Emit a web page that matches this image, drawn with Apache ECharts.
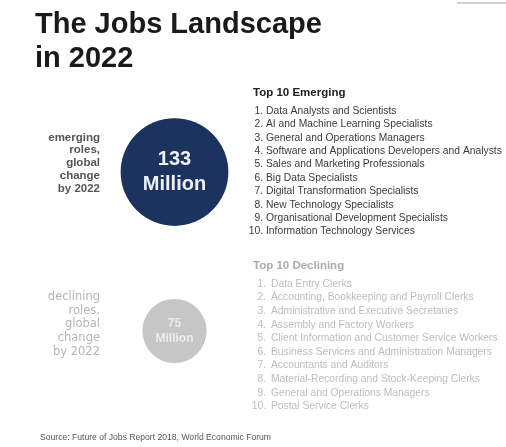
<!DOCTYPE html>
<html>
<head>
<meta charset="utf-8">
<script src="https://cdn.jsdelivr.net/npm/echarts@6/dist/echarts.min.js"></script>
<style>
html,body{margin:0;padding:0;background:#fff;}
#chart{width:506px;height:447px;}
</style>
</head>
<body>
<div id="chart"></div>
<script>
// ---- data ----
const titleLines = ['The Jobs Landscape', 'in 2022'];
const circleYear = ['2022'];
const circleGroups = ['emerging', 'declining'];
const rolesMillions = [133, 75];
const emergingHeader = 'Top 10 Emerging';
const emergingRoles = [
  'Data Analysts and Scientists',
  'AI and Machine Learning Specialists',
  'General and Operations Managers',
  'Software and Applications Developers and Analysts',
  'Sales and Marketing Professionals',
  'Big Data Specialists',
  'Digital Transformation Specialists',
  'New Technology Specialists',
  'Organisational Development Specialists',
  'Information Technology Services'
];
const decliningHeader = 'Top 10 Declining';
const decliningRoles = [
  'Data Entry Clerks',
  'Accounting, Bookkeeping and Payroll Clerks',
  'Administrative and Executive Secretaries',
  'Assembly and Factory Workers',
  'Client Information and Customer Service Workers',
  'Business Services and Administration Managers',
  'Accountants and Auditors',
  'Material-Recording and Stock-Keeping Clerks',
  'General and Operations Managers',
  'Postal Service Clerks'
];
const sourceText = 'Source: Future of Jobs Report 2018, World Economic Forum';

// ---- styles ----
const FONT = '"Liberation Sans", Arial, sans-serif';
const circleColors = ['#1c325f', '#c6c6c6'];
const circleTextColors = ['#eef0f4', '#ececec'];
const circleFont = [20, 12];
const circleLine = [25, 15];
const sideColors = ['#555555', '#b5b5b5'];
const sideFonts = ['bold 11.5px ' + FONT, '11.5px "DejaVu Sans", sans-serif'];
const sideLine = [12.8, 13.8];
const listHeaderColors = ['#222222', '#ababab'];
const listItemColors = ['#3a3a3a', '#bdbdbd'];

const chart = echarts.init(document.getElementById('chart'), null, {renderer: 'canvas'});

const graphics = [];
// Title
graphics.push({
  type: 'text', left: 35, top: 8,
  style: {
    text: titleLines.join('\n'), font: 'bold 29px ' + FONT, fill: '#1a1a1a',
    lineHeight: 34, verticalAlign: 'top'
  }
});
// Side labels
const sideTop = [131, 290];
circleGroups.forEach((g, i) => {
  graphics.push({
    type: 'text', x: 100, y: sideTop[i],
    style: {
      text: [g, 'roles,', 'global', 'change', 'by 2022'].join('\n'),
      font: sideFonts[i], fill: sideColors[i],
      align: 'right', verticalAlign: 'top', lineHeight: sideLine[i]
    }
  });
});
// Lists
const lists = [
  {header: emergingHeader, items: emergingRoles, hy: 93, iy: 111, step: 13.4, numX: 263, txtX: 266},
  {header: decliningHeader, items: decliningRoles, hy: 266, iy: 284, step: 13.6, numX: 266, txtX: 271}
];
lists.forEach((L, li) => {
  graphics.push({
    type: 'text', x: 253, y: L.hy,
    style: {text: L.header, font: 'bold 11.5px ' + FONT, fill: listHeaderColors[li], verticalAlign: 'middle'}
  });
  L.items.forEach((t, i) => {
    const y = L.iy + L.step * i;
    graphics.push({
      type: 'text', x: L.numX, y: y,
      style: {text: (i + 1) + '.', font: '10.3px ' + FONT, fill: listItemColors[li], align: 'right', verticalAlign: 'middle'}
    });
    graphics.push({
      type: 'text', x: L.txtX, y: y,
      style: {text: t, font: '10.3px ' + FONT, fill: listItemColors[li], verticalAlign: 'middle'}
    });
  });
});
// Source
graphics.push({
  type: 'text', x: 40, y: 438,
  style: {text: sourceText, font: '8.6px ' + FONT, fill: '#555', verticalAlign: 'middle'}
});
// top-right mark
graphics.push({
  type: 'line', shape: {x1: 457, y1: 3, x2: 506, y2: 3},
  style: {stroke: '#9a9a9a', lineWidth: 1.5, opacity: 0.6}
});

const circleData = circleGroups.map((g, i) => ({
  value: [circleYear[0], g, rolesMillions[i]],
  itemStyle: {color: circleColors[i], opacity: 1},
  label: {
    color: circleTextColors[i], fontSize: circleFont[i], lineHeight: circleLine[i]
  }
}));

chart.setOption({
  animation: false,
  backgroundColor: '#ffffff',
  grid: {left: 120, right: 277, top: 92.5, bottom: 36.5},
  xAxis: {type: 'category', data: circleYear, show: false},
  yAxis: {type: 'category', data: circleGroups, inverse: true, show: false},
  series: [{
    type: 'scatter',
    data: circleData,
    symbol: 'circle',
    symbolSize: v => 8 + 0.75 * v[2],
    itemStyle: {opacity: 1},
    label: {
      show: true, position: 'inside',
      fontFamily: FONT, fontWeight: 'bold',
      formatter: p => p.value[2] + '\nMillion'
    },
    emphasis: {disabled: true}
  }],
  graphic: graphics
});
</script>
</body>
</html>
